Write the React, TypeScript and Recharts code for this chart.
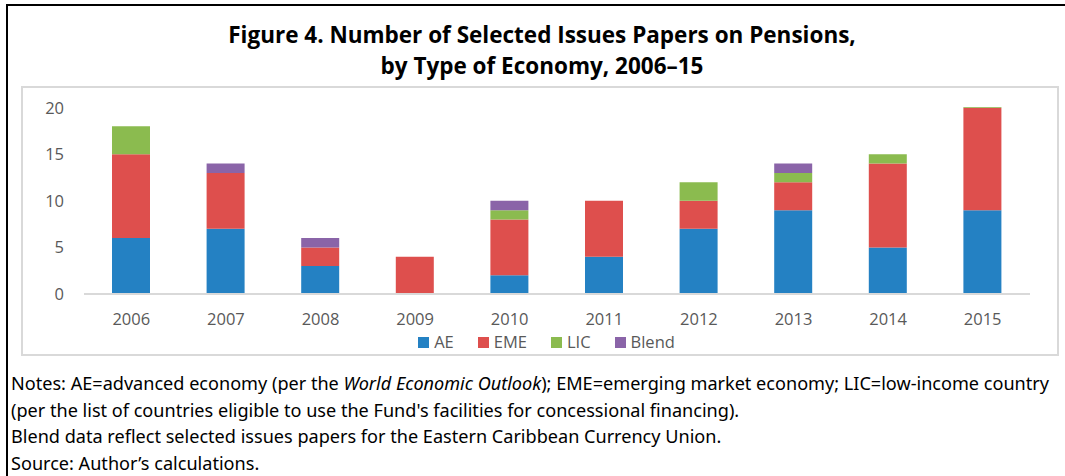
import { BarChart, Bar, XAxis, YAxis, Legend } from 'recharts';

// values
const years = ['2006', '2007', '2008', '2009', '2010', '2011', '2012', '2013', '2014', '2015'];
const ae = [6, 7, 3, 0, 2, 4, 7, 9, 5, 9];
const eme = [9, 6, 2, 4, 6, 6, 3, 3, 9, 11];
const lic = [3, 0, 0, 0, 1, 0, 2, 1, 1, 0.08];
const blend = [0, 1, 1, 0, 1, 0, 0, 1, 0, 0];
const yTicks = [0, 5, 10, 15, 20];

const seriesNames = ['AE', 'EME', 'LIC', 'Blend'];
const seriesColors = ['#2481c3', '#de4f4d', '#8bbb4f', '#8a64a8'];

const chartData = years.map((year, i) => ({
  year,
  AE: ae[i],
  EME: eme[i],
  LIC: lic[i],
  Blend: blend[i],
}));

const FONT = '"Open Sans", "Segoe UI", sans-serif';
const GREY = '#595959';

// legend in the series order (recharts would sort it by name)
const LegendRow = () => (
  <div
    style={{
      display: 'flex',
      justifyContent: 'center',
      alignItems: 'center',
      gap: 24,
      height: 20,
      paddingLeft: 40,
      fontSize: 16.5,
      lineHeight: '20px',
      color: GREY,
      fontFamily: FONT,
    }}
  >
    {seriesNames.map((name, i) => (
      <div key={name} style={{ display: 'flex', alignItems: 'center', gap: 5 }}>
        <span style={{ width: 11, height: 11, background: seriesColors[i], display: 'inline-block' }} />
        <span>{name}</span>
      </div>
    ))}
  </div>
);

export default function App() {
  return (
    <div
      style={{
        position: 'absolute',
        left: 0,
        top: 0,
        width: 1065,
        height: 476,
        overflow: 'hidden',
        background: '#fff',
        fontFamily: FONT,
      }}
    >
      {/* outer frame */}
      <div
        style={{
          position: 'absolute',
          left: 6,
          top: 4,
          width: 1080,
          height: 500,
          border: '2px solid #000',
        }}
      />
      <div
        style={{
          position: 'absolute',
          left: 0,
          top: 19,
          width: 1084,
          textAlign: 'center',
          fontWeight: 700,
          fontSize: 22.5,
          lineHeight: '31px',
          color: '#000',
        }}
      >
        Figure 4. Number of Selected Issues Papers on Pensions,
        <br />
        by Type of Economy, 2006–15
      </div>

      <div
        style={{
          position: 'absolute',
          left: 21,
          top: 86,
          width: 1034,
          height: 266,
          border: '2px solid #d9d9d9',
        }}
      >
        <BarChart
          width={1034}
          height={266}
          data={chartData}
          barSize={38}
          margin={{ top: 19, right: 27, left: 0, bottom: 2 }}
        >
          <XAxis
            dataKey="year"
            height={38}
            axisLine={{ stroke: '#d9d9d9', strokeWidth: 2 }}
            tickLine={false}
            tickMargin={13}
            tick={{ fill: GREY, fontSize: 16.5, fontFamily: FONT }}
          />
          <YAxis
            width={61}
            domain={[0, 20]}
            ticks={yTicks}
            axisLine={false}
            tickLine={false}
            tickMargin={14}
            tick={{ fill: GREY, fontSize: 16.5, fontFamily: FONT }}
          />
          <Legend verticalAlign="bottom" height={20} content={() => <LegendRow />} />
          {seriesNames.map((name, i) => (
            <Bar key={name} dataKey={name} stackId="a" fill={seriesColors[i]} isAnimationActive={false} />
          ))}
        </BarChart>
      </div>

      <div
        style={{
          position: 'absolute',
          left: 11,
          top: 370,
          width: 1054,
          whiteSpace: 'nowrap',
          fontFamily: '"Noto Sans", sans-serif',
          fontSize: 18.1,
          lineHeight: '26.5px',
          color: '#000',
        }}
      >
        <div>
          Notes: AE=advanced economy (per the <i>World Economic Outlook</i>); EME=emerging market
          economy; LIC=low-income country
        </div>
        <div>(per the list of countries eligible to use the Fund's facilities for concessional financing).</div>
        <div>Blend data reflect selected issues papers for the Eastern Caribbean Currency Union.</div>
        <div>Source: Author’s calculations.</div>
      </div>
    </div>
  );
}
